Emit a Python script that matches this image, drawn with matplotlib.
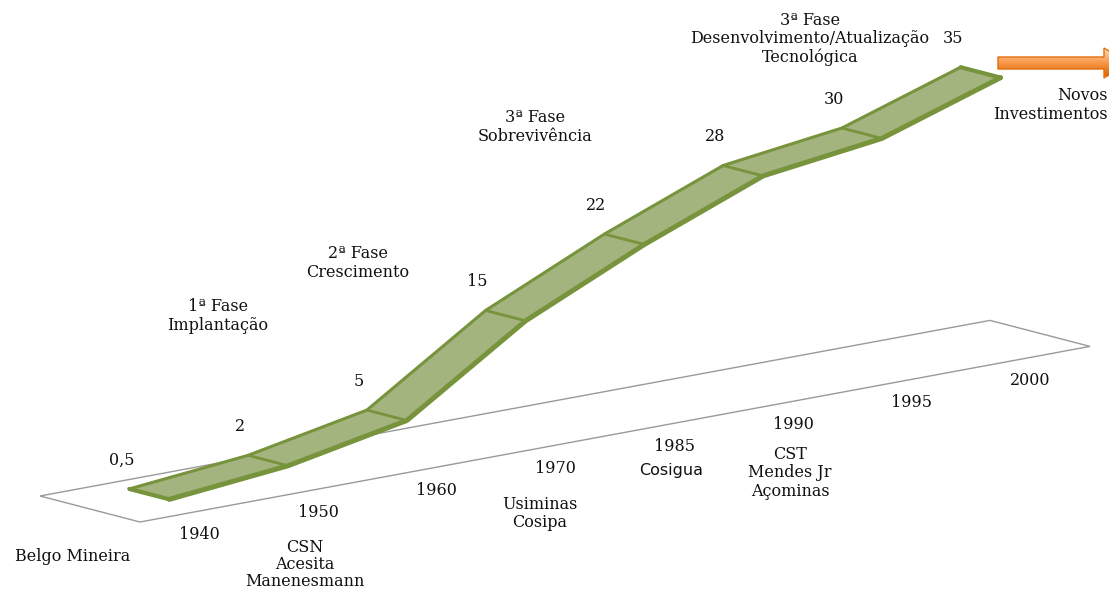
import numpy as np
import matplotlib.pyplot as plt
from matplotlib.patches import Polygon, FancyArrow
from matplotlib.transforms import Affine2D
from matplotlib.colors import LinearSegmentedColormap

plt.rcParams['font.family'] = ['DejaVu Serif']

# dados
anos = ['1940', '1950', '1960', '1970', '1985', '1990', '1995', '2000']
valores = [0.5, 2, 5, 15, 22, 28, 30, 35]
rotulos = ['0,5', '2', '5', '15', '22', '28', '30', '35']

empresas = ['Belgo Mineira', 'CSN\nAcesita\nManenesmann', 'Usiminas\nCosipa',
            'Cosigua', 'CST\nMendes Jr\nAçominas']
fases = ['1ª Fase\nImplantação', '2ª Fase\nCrescimento', '3ª Fase\nSobrevivência',
         '3ª Fase\nDesenvolvimento/Atualização\nTecnológica']
novos = 'Novos\nInvestimentos'

W, H = 1109, 592
fig = plt.figure(figsize=(W / 100, H / 100), dpi=100)
ax = fig.add_axes([0, 0, 1, 1])
ax.axis('off')

# projecao obliqua do grafico 3D: passo da categoria, profundidade e unidade do valor (pixels)
passo = np.array([118.75, -21.95])
prof = np.array([100.0, 26.0])
unidade = 7.77
origem = np.array([40.0, 496.0])


def projecao(d):
    m = np.array([[passo[0], 0.0, origem[0] + prof[0] * d + passo[0] / 2],
                  [passo[1], -unidade, origem[1] + prof[1] * d + passo[1] / 2],
                  [0.0, 0.0, 1.0]])
    return Affine2D(m)


n = len(valores)
idx = np.arange(n)

# piso
p0 = projecao(0).transform([(-0.5, 0), (n - 0.5, 0)])
p1 = projecao(1).transform([(-0.5, 0), (n - 0.5, 0)])
piso = Polygon([p0[0], p1[0], p1[1], p0[1]], closed=True, facecolor='white',
               edgecolor='#9a9a9a', lw=1.0, zorder=1)
ax.add_patch(piso)

# fita da linha 3D
pts = np.column_stack([idx, valores])
tras = projecao(0.3).transform(pts)
frente = projecao(0.7).transform(pts)
verde = '#77933C'
for k in range(n - 1):
    ax.add_patch(Polygon([tras[k], tras[k + 1], frente[k + 1], frente[k]], closed=True,
                         facecolor='#A3B47F', edgecolor='none', zorder=2))
ax.plot(tras[:, 0], tras[:, 1], color=verde, lw=2.2, solid_joinstyle='round', zorder=3)
ax.plot(frente[:, 0], frente[:, 1], color=verde, lw=3.6, solid_joinstyle='round',
        solid_capstyle='round', zorder=3)
for k in range(n):
    lw = 3.0 if k in (0, n - 1) else 2.0
    ax.plot([tras[k, 0], frente[k, 0]], [tras[k, 1], frente[k, 1]], color=verde, lw=lw,
            solid_capstyle='round', zorder=3)

cor_txt = '#111111'
tam = 11.5

# rotulos de valor
for k in range(n):
    ax.annotate(rotulos[k], xy=tras[k], xytext=(-8, 29), textcoords='offset pixels',
                ha='center', va='center', fontsize=tam, color=cor_txt)

# anos no eixo de categorias
base = projecao(1).transform(np.column_stack([idx, np.zeros(n)]))
for k in range(n):
    ax.annotate(anos[k], xy=base[k], xytext=(0, -23), textcoords='offset pixels',
                ha='center', va='center', fontsize=tam, color=cor_txt)

# empresas
pos_emp = [(73, 548), (305, 539), (540, 496), (671, 471), (790, 446)]
for txt, (x, y) in zip(empresas, pos_emp):
    if txt == 'Cosigua':
        ax.text(x, y, txt, ha='center', va='center', fontsize=11.5, color=cor_txt,
                family=['DejaVu Sans'])
    else:
        esp = 1.0 if txt.startswith('CSN') else 1.1
        ax.text(x, y, txt, ha='center', va='top', fontsize=tam, color=cor_txt,
                linespacing=esp)

# fases
pos_fases = [(218, 316), (358, 263), (535, 127), (810, 39)]
for txt, (x, y) in zip(fases, pos_fases):
    ax.text(x, y, txt, ha='center', va='center', fontsize=tam, color=cor_txt,
            linespacing=1.1)

ax.text(1108, 105, novos, ha='right', va='center', fontsize=tam, color=cor_txt,
        linespacing=1.1)

# seta laranja
seta = FancyArrow(998, 63, 131, 0, width=12, head_width=30, head_length=25,
                  length_includes_head=True, facecolor='none', edgecolor='#E46C0A',
                  lw=1.0, zorder=5)
ax.add_patch(seta)
laranja = LinearSegmentedColormap.from_list('laranja', ['#FCD3AC', '#F79646', '#D9660A'])
grad = np.linspace(0, 1, 64).reshape(-1, 1)
img = ax.imshow(grad, extent=(990, 1140, 76, 50), cmap=laranja, aspect='auto', zorder=4)
img.set_clip_path(seta)

ax.set_xlim(0, W)
ax.set_ylim(H, 0)

fig.savefig('out.png', dpi=100)
